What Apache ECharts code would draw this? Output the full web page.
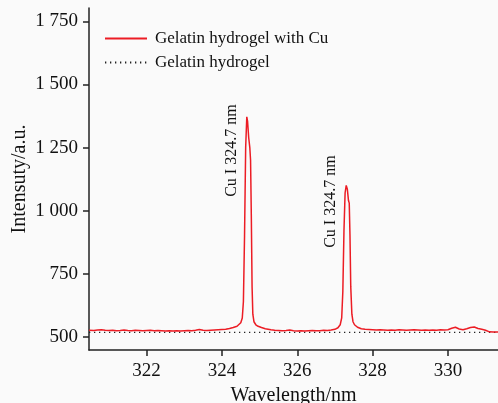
<!DOCTYPE html>
<html>
<head>
<meta charset="utf-8">
<script src="https://cdn.jsdelivr.net/npm/echarts@6/dist/echarts.min.js"></script>
<style>
  html, body { margin: 0; padding: 0; background: #fafafa; }
  #chart { width: 498px; height: 403px; }
</style>
</head>
<body>
<div id="chart"></div>
<script>
// spectrum
const wavelength = [
  320.47, 320.6, 320.7, 320.8, 320.9, 321.0, 321.1, 321.2, 321.3, 321.4,
  321.5, 321.6, 321.7, 321.8, 321.9, 322.0, 322.1, 322.2, 322.3, 322.4,
  322.5, 322.6, 322.7, 322.8, 322.9, 323.0, 323.1, 323.2, 323.3, 323.4,
  323.5, 323.6, 323.7, 323.8, 323.9, 324.0, 324.1, 324.2, 324.3, 324.4,
  324.45, 324.5, 324.54, 324.57, 324.6, 324.63, 324.66, 324.68, 324.71, 324.74,
  324.76, 324.78, 324.8, 324.82, 324.85, 324.9, 324.96, 325.05, 325.15, 325.3,
  325.4, 325.5, 325.6, 325.7, 325.8, 325.9, 326.0, 326.1, 326.2, 326.3,
  326.4, 326.5, 326.6, 326.7, 326.8, 326.9, 327.0, 327.08, 327.14, 327.18,
  327.21, 327.24, 327.27, 327.3, 327.33, 327.36, 327.38, 327.4, 327.42, 327.45,
  327.48, 327.52, 327.6, 327.7, 327.8, 327.9, 328.0, 328.1, 328.2, 328.3,
  328.4, 328.5, 328.6, 328.7, 328.8, 328.9, 329.0, 329.1, 329.2, 329.3,
  329.4, 329.5, 329.6, 329.7, 329.8, 329.9, 330.0, 330.1, 330.2, 330.3,
  330.4, 330.5, 330.6, 330.7, 330.8, 330.9, 331.0, 331.1, 331.2, 331.33
];
const withCu = [
  526, 525, 527, 528, 526, 525, 526, 524, 525, 527,
  525, 524, 526, 525, 524, 525, 526, 524, 525, 524,
  523, 524, 523, 524, 523, 524, 525, 524, 526, 529,
  526, 525, 526, 527, 528, 529, 530, 533, 537, 542,
  548, 556, 575, 640, 900, 1250, 1372, 1355, 1290, 1250,
  1200, 980, 700, 590, 560, 548, 542, 537, 532, 528,
  526, 525, 524, 525, 527, 524, 523, 524, 523, 524,
  525, 524, 524, 526, 525, 527, 530, 536, 548, 575,
  680, 920, 1070, 1100, 1085, 1040, 1030, 900, 700, 590,
  560, 548, 538, 532, 530, 529, 528, 527, 528, 527,
  526, 527, 526, 528, 527, 526, 527, 528, 527, 526,
  527, 526, 527, 526, 528, 527, 528, 534, 538, 531,
  528, 532, 537, 539, 533, 530, 526, 520, 519, 519
];
const gelatinLevel = 518;

const xTicks = [322, 324, 326, 328, 330];
const yTicks = [500, 750, 1000, 1250, 1500, 1750];
const seriesNames = ['Gelatin hydrogel with Cu', 'Gelatin hydrogel'];
const peakLabel = 'Cu I 324.7 nm';

const FONT = "'Liberation Serif', 'Times New Roman', serif";

const chart = echarts.init(document.getElementById('chart'));

function withSpace(v) {
  const s = String(v);
  return s.length > 3 ? s.slice(0, s.length - 3) + ' ' + s.slice(-3) : s;
}

const axisLine = { show: true, lineStyle: { color: '#222', width: 1.5 } };

chart.setOption({
  backgroundColor: '#fafafa',
  animation: false,
  textStyle: { fontFamily: FONT },
  grid: { left: 89, right: 0, top: 8, bottom: 53, outerBoundsMode: 'none' },
  legend: {
    left: 104,
    top: 30,
    padding: 0,
    orient: 'vertical',
    itemWidth: 42,
    itemHeight: 14,
    itemGap: 7,
    itemStyle: { opacity: 0 },
    textStyle: { fontFamily: FONT, fontSize: 17, color: '#111', padding: [0, 0, 0, 3] },
    data: seriesNames
  },
  xAxis: {
    type: 'value',
    min: 320.47,
    max: 331.33,
    name: 'Wavelength/nm',
    nameLocation: 'middle',
    nameGap: 33,
    nameTextStyle: { fontFamily: FONT, fontSize: 20, color: '#111' },
    axisLine: axisLine,
    axisTick: { show: true, length: 6, customValues: xTicks, lineStyle: { color: '#222', width: 1.5 } },
    axisLabel: { customValues: xTicks, fontFamily: FONT, fontSize: 19, color: '#111', margin: 12 },
    splitLine: { show: false }
  },
  yAxis: {
    type: 'value',
    min: 448,
    max: 1803,
    name: 'Intensuty/a.u.',
    nameLocation: 'middle',
    nameGap: 59,
    nameMoveOverlap: false,
    nameTextStyle: { fontFamily: FONT, fontSize: 20, color: '#111' },
    axisLine: axisLine,
    axisTick: { show: true, length: 6, customValues: yTicks, lineStyle: { color: '#222', width: 1.5 } },
    axisLabel: { customValues: yTicks, fontFamily: FONT, fontSize: 19, color: '#111', margin: 11, formatter: withSpace },
    splitLine: { show: false }
  },
  series: [
    {
      name: seriesNames[0],
      type: 'line',
      symbol: 'none',
      data: wavelength.map((w, i) => [w, withCu[i]]),
      lineStyle: { color: '#ec1c24', width: 1.5 },
      itemStyle: { color: '#ec1c24' },
      z: 3,
      markPoint: {
        symbol: 'circle',
        symbolSize: 1,
        itemStyle: { color: 'transparent' },
        label: {
          show: true,
          position: 'inside',
          rotate: 90,
          fontFamily: FONT,
          fontSize: 16,
          color: '#111',
          formatter: peakLabel
        },
        data: [
          { coord: [324.26, 1238] },
          { coord: [326.9, 1036] }
        ]
      }
    },
    {
      name: seriesNames[1],
      type: 'line',
      symbol: 'none',
      data: [[wavelength[0], gelatinLevel], [wavelength[wavelength.length - 1], gelatinLevel]],
      lineStyle: { color: '#222', width: 1.3, type: [1.3, 3.7] },
      itemStyle: { color: '#222' },
      z: 2
    }
  ]
});
</script>
</body>
</html>
